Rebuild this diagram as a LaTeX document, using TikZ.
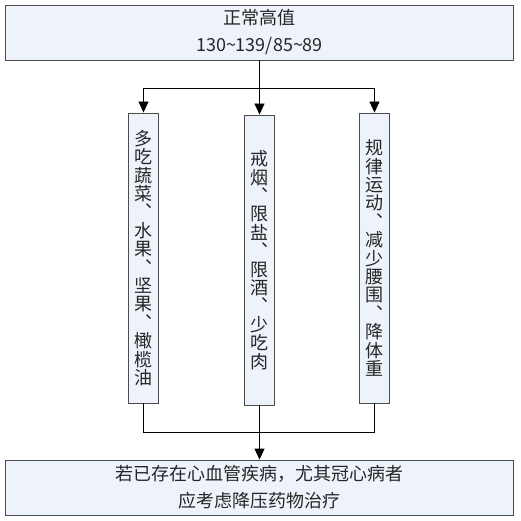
\documentclass[tikz,border=0pt]{standalone}
\usepackage{fontspec}
\setmainfont{Noto Sans CJK SC}
\usetikzlibrary{arrows.meta}
\definecolor{boxblue}{HTML}{EEF2FA}

\begin{document}
\begin{tikzpicture}[x=1pt, y=-1pt, line width=0.9pt,
    every node/.style={draw=black!70, fill=boxblue, inner sep=0pt, align=center,
        text=black!85, font=\fontsize{18}{27}\selectfont},
    wide/.style={minimum width=508, minimum height=55},
    col/.style={minimum width=30, minimum height=290, font=\fontsize{18}{18.4}\selectfont},
    arr/.style={-{Triangle[length=11pt,width=10pt]}}]
    \useasboundingbox (0,0) rectangle (520,521);

    \node[wide] (top) at (259.5,32.5) {正常高值\\130\textasciitilde139/85\textasciitilde89};
    \node[col] (diet) at (143.5,258) {多\\吃\\蔬\\菜\\︑\\水\\果\\︑\\坚\\果\\︑\\橄\\榄\\油};
    \node[col] (habit) at (259.5,260) {戒\\烟\\︑\\限\\盐\\︑\\限\\酒\\︑\\少\\吃\\肉};
    \node[col] (sport) at (374.5,258) {规\\律\\运\\动\\︑\\减\\少\\腰\\围\\︑\\降\\体\\重};
    \node[wide] (drug) at (259.5,487.5) {若已存在心血管疾病，尤其冠心病者\\应考虑降压药物治疗};

    \coordinate (split) at (259.5,88.5);
    \coordinate (join) at (259.5,432.5);

    % split to the three measures
    \draw (top.south -| split) -- (split);
    \draw[arr] (split) -| (diet.north);
    \draw[arr] (split) -- (habit.north);
    \draw[arr] (split) -| (sport.north);

    % join to the advice
    \draw (diet.south) |- (join) -| (sport.south);
    \draw[arr] (habit.south) -- (drug.north);
\end{tikzpicture}
\end{document}
